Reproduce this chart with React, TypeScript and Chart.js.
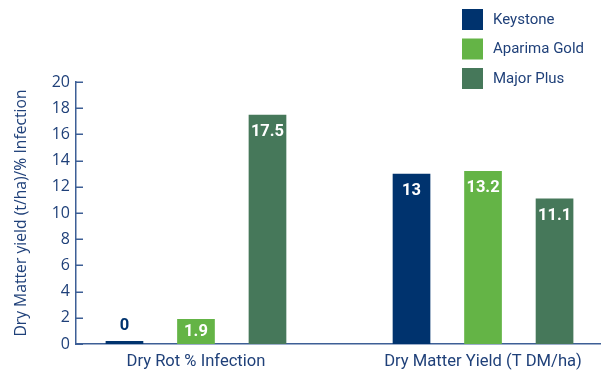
import React, { useEffect, useRef } from "react";
import { Chart, registerables } from "chart.js";

Chart.register(...registerables);

const categories = ["Dry Rot % Infection", "Dry Matter Yield (T DM/ha)"];
const seriesNames = ["Keystone", "Aparima Gold", "Major Plus"];
const keystone = [0, 13];
const aparimaGold = [1.9, 13.2];
const majorPlus = [17.5, 11.1];
const seriesColors = ["#00336e", "#64b446", "#46785a"];
const yMin = 0;
const yMax = 20;
const yStep = 2;
const yTitle = "Dry Matter yield (t/ha)/% Infection";

const textColor = "#1f4079";
const axisColor = "#3d5f96";

const valueLabels = {
  id: "valueLabels",
  afterDatasetsDraw(chart: any) {
    const ctx = chart.ctx;
    chart.data.datasets.forEach((ds: any, di: number) => {
      const meta = chart.getDatasetMeta(di);
      meta.data.forEach((bar: any, i: number) => {
        const v = ds.data[i].y;
        const { x, y, base } = bar.getProps(["x", "y", "base"], true);
        ctx.save();
        ctx.font = "bold 16.5px Roboto";
        ctx.textAlign = "center";
        ctx.textBaseline = "middle";
        let ty;
        if (v === 0) {
          ctx.fillStyle = ds.backgroundColor;
          ty = y - 15;
        } else if (base - y < 34) {
          ctx.fillStyle = "#ffffff";
          ty = (y + base) / 2;
        } else {
          ctx.fillStyle = "#ffffff";
          ty = y + 17;
        }
        ctx.fillText(String(v), x, ty);
        ctx.restore();
      });
    });
  },
};

const extras = {
  id: "extras",
  afterDraw(chart: any) {
    const ctx = chart.ctx;
    const yScale = chart.scales.y;
    const left = chart.chartArea.left;
    ctx.save();
    ctx.strokeStyle = axisColor;
    ctx.lineWidth = 1.5;
    ctx.beginPath();
    yScale.ticks.forEach((t: any) => {
      const py = Math.round(yScale.getPixelForValue(t.value)) + 0.25;
      ctx.moveTo(left, py);
      ctx.lineTo(left + 7, py);
    });
    ctx.stroke();
    // legend
    chart.data.datasets.forEach((ds: any, i: number) => {
      const top = 9 + i * 29.5;
      ctx.fillStyle = ds.backgroundColor;
      ctx.fillRect(462, top, 21, 21);
      ctx.fillStyle = textColor;
      ctx.font = "15px Roboto";
      ctx.textAlign = "left";
      ctx.textBaseline = "middle";
      ctx.fillText(ds.label, 493, top + 11);
    });
    ctx.restore();
  },
};

export default function App() {
  const ref = useRef<HTMLCanvasElement | null>(null);
  useEffect(() => {
    document.body.style.margin = "0";
    const series = [keystone, aparimaGold, majorPlus];
    const chart = new Chart(ref.current as HTMLCanvasElement, {
      type: "bar",
      data: {
        datasets: series.map((vals, si) => ({
          label: seriesNames[si],
          data: vals.map((v, i) => ({ x: i, y: v })),
          backgroundColor: seriesColors[si],
          categoryPercentage: 0.7474,
          barPercentage: 0.527,
          minBarLength: 3,
        })),
      },
      options: {
        responsive: false,
        maintainAspectRatio: false,
        animation: false,
        layout: { padding: { top: 82, right: 0, left: 0, bottom: 0 } },
        plugins: { legend: { display: false }, tooltip: { enabled: false } },
        scales: {
          x: {
            type: "linear",
            offset: false,
            min: -0.418,
            max: 1.411,
            afterBuildTicks: (s: any) => {
              s.ticks = categories.map((_, i) => ({ value: i }));
            },
            ticks: {
              callback: (_v: any, i: number) => categories[i],
              color: textColor,
              font: { family: "Roboto", size: 16.6 },
              padding: 8,
              autoSkip: false,
              maxRotation: 0,
            },
            grid: { display: false, drawTicks: false },
            border: { display: true, color: axisColor, width: 1.5 },
            afterFit: (s: any) => {
              s.height = 27;
            },
          },
          y: {
            min: yMin,
            max: yMax,
            ticks: {
              stepSize: yStep,
              color: textColor,
              font: { family: "Open Sans", size: 16 },
              padding: 6,
            },
            grid: { display: false, drawTicks: false },
            border: { display: true, color: axisColor, width: 1.5 },
            title: {
              display: true,
              text: yTitle,
              color: textColor,
              font: { family: "Open Sans", size: 15.7 },
              padding: { top: 12, bottom: 0 },
            },
            afterFit: (s: any) => {
              s.width = 76;
            },
          },
        },
      },
      plugins: [valueLabels, extras],
    } as any);
    return () => chart.destroy();
  }, []);
  return (
    <div style={{ width: 601, height: 371 }}>
      <canvas ref={ref} width={601} height={371} />
    </div>
  );
}
